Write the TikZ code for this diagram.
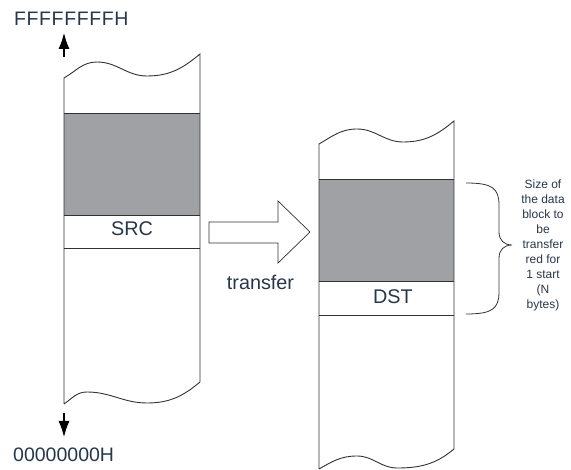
\documentclass[tikz,border=0pt]{standalone}
\usepackage{fontspec}
\setmainfont{Liberation Sans}
\usetikzlibrary{arrows.meta}
\definecolor{txt}{RGB}{38,55,74}
\definecolor{ln}{RGB}{50,50,50}
\definecolor{blk}{RGB}{160,161,165}
\begin{document}
\begin{tikzpicture}[x=1pt,y=-1pt,
  outl/.style={draw=ln,line width=0.9pt},
  lbl/.style={text=txt,inner sep=0pt,font=\fontsize{19.8}{22}\selectfont},
  addr/.style={text=txt,inner sep=0pt,font=\fontsize{19.5}{22}\selectfont},
  note/.style={text=txt,inner sep=0pt,align=center,font=\fontsize{12}{15}\selectfont},
  memarrow/.style={draw=black,line width=1.1pt,-{Latex[length=16pt,width=11pt]}}]
\useasboundingbox (0,0) rectangle (571,470);
% left column
\fill[white] (64,404) -- (64,78) to[out=30,in=180] (97,62) to[out=0,in=180] (147,76) to[out=0,in=220] (200,54) -- (200,382) to[out=220,in=0] (147,403) to[out=180,in=0] (87,392) to[out=180,in=35] cycle;
\fill[blk] (64,113) rectangle (200,215);
\draw[outl] (64,113) -- (200,113);
\draw[outl] (64,215) -- (200,215);
\draw[outl] (64,248) -- (200,248);
\draw[outl] (64,404) -- (64,78) to[out=30,in=180] (97,62) to[out=0,in=180] (147,76) to[out=0,in=220] (200,54) -- (200,382) to[out=220,in=0] (147,403) to[out=180,in=0] (87,392) to[out=180,in=35] (64,404);
\node[lbl,anchor=base] (src) at (132,236) {SRC};
% right column
\fill[blk] (319,179) rectangle (454,281);
\draw[outl] (319,179) -- (454,179);
\draw[outl] (319,281) -- (454,281);
\draw[outl] (319,315) -- (454,315);
\draw[outl] (319,469) -- (319,144) to[out=30,in=180] (357,129) to[out=0,in=180] (403,142) to[out=0,in=220] (454,121) -- (454,449) to[out=220,in=0] (397,468) to[out=180,in=0] (357,456) to[out=180,in=30] (319,469);
\node[lbl,anchor=base] (dst) at (393,304) {DST};
% transfer arrow
\draw[draw=ln,line width=0.7pt,fill=white] (209,222) -- (278,222) -- (278,201) -- (310,232) -- (278,263) -- (278,243) -- (209,243) -- cycle;
\node[lbl,anchor=base] (tr) at (260.5,290) {transfer};
% address arrows
\coordinate (upS) at (64,57);
\coordinate (upE) at (64,33);
\draw[memarrow] (upS) -- (upE);
\coordinate (dnS) at (64,413);
\coordinate (dnE) at (64,437);
\draw[memarrow] (dnS) -- (dnE);
\node[addr,anchor=base west] (hi) at (14,26) {F\kern0.6pt F\kern0.6pt F\kern0.6pt F\kern0.6pt F\kern0.6pt F\kern0.6pt F\kern0.6pt F\kern0.6pt H};
\node[addr,anchor=base west] (lo) at (13,462) {00000000H};
% brace
\draw[draw=ln,line width=0.8pt] (466,183) .. controls (492,183) and (499,188) .. (499,205) -- (499,232) .. controls (499,240) and (504,245) .. (512,245) .. controls (504,245) and (499,250) .. (499,258) -- (499,292) .. controls (499,309) and (492,314) .. (466,314);
\node[note] (size) at (543,245.5) {Size of\\the data\\block to\\be\\transfer\\red for\\1 start\\(N\\bytes)};
\end{tikzpicture}
\end{document}
